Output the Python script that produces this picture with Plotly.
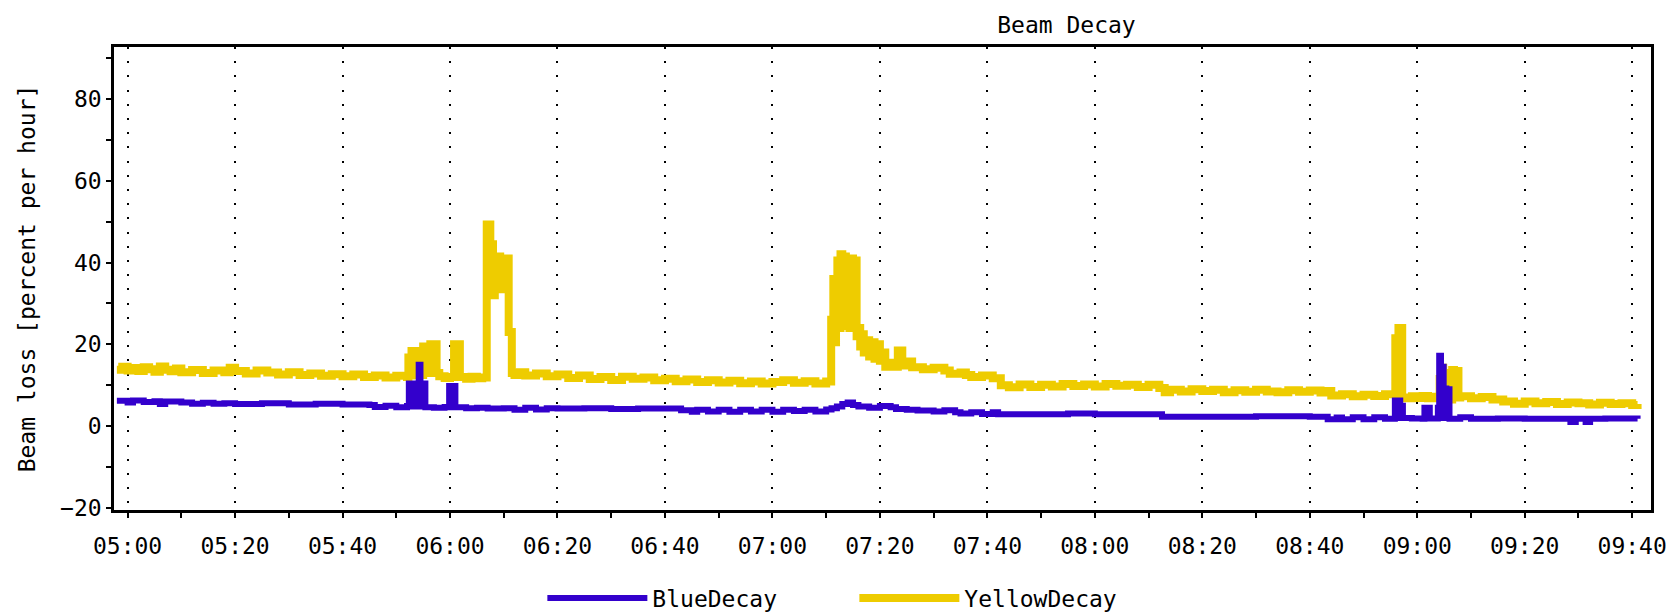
import plotly.graph_objects as go

DAY = "2000-01-01 "

yellow_t = ["04:58:00","04:59:00","05:00:00","05:01:00","05:02:00","05:03:00","05:04:00","05:05:00","05:06:00","05:07:00",
            "05:08:00","05:09:00","05:10:00","05:12:00","05:14:00","05:16:00","05:18:00","05:19:00","05:20:00","05:22:00",
            "05:24:00","05:26:00","05:28:00","05:30:00","05:32:00","05:34:00","05:36:00","05:38:00","05:40:00","05:42:00",
            "05:44:00","05:46:00","05:48:00","05:50:00","05:52:00",
            "05:52:15","05:52:35","05:52:50","05:53:10","05:53:30","05:53:50","05:55:00","05:55:20","05:55:40","05:56:00",
            "05:56:20","05:56:40","05:57:00","05:57:30","05:58:00","05:59:00","06:00:00",
            "06:00:45","06:01:10","06:01:30","06:01:50","06:03:00","06:04:00","06:05:00","06:06:00",
            "06:06:50","06:07:30","06:08:00","06:08:20","06:08:40","06:09:00","06:09:20","06:09:40","06:10:00",
            "06:10:30","06:10:55","06:11:30","06:12:00","06:13:00","06:14:00","06:16:00","06:18:00","06:20:00","06:22:00",
            "06:24:00","06:26:00","06:28:00","06:30:00","06:32:00","06:34:00","06:36:00","06:38:00","06:40:00","06:42:00",
            "06:44:00","06:46:00","06:48:00","06:50:00","06:52:00","06:54:00","06:56:00","06:58:00","07:00:00","07:02:00",
            "07:04:00","07:06:00","07:08:00","07:10:00",
            "07:10:56","07:11:20","07:11:35","07:11:50","07:12:05","07:12:25","07:12:40","07:13:00","07:13:20","07:13:40",
            "07:14:00","07:14:20","07:14:40","07:15:00","07:15:20","07:15:40","07:16:00","07:16:20","07:16:40","07:17:00",
            "07:17:30","07:18:00","07:18:30","07:19:00","07:19:30","07:20:00","07:20:40","07:21:00","07:22:00","07:22:30",
            "07:23:20","07:24:10","07:25:00","07:26:00","07:28:00","07:30:00","07:32:00",
            "07:33:00","07:35:00","07:36:00","07:37:00","07:39:00","07:41:00","07:42:30","07:44:00","07:46:00","07:48:00",
            "07:50:00","07:52:00","07:54:00","07:56:00","07:58:00","08:00:00","08:02:00","08:04:00","08:06:00","08:08:00",
            "08:10:00","08:12:00","08:13:00","08:14:00","08:16:00","08:18:00","08:20:00","08:22:00","08:24:00","08:26:00",
            "08:28:00","08:30:00","08:32:00","08:34:00","08:36:00","08:38:00","08:40:00","08:42:00","08:43:00","08:44:00",
            "08:46:00","08:48:00","08:50:00","08:52:00","08:54:00","08:55:55","08:56:15","08:56:30","08:57:12","08:58:00",
            "08:59:00","09:00:00","09:01:00","09:02:00","09:03:00","09:04:10","09:04:30","09:04:50","09:05:10","09:05:40",
            "09:06:30","09:06:50","09:07:10","09:07:40","09:08:00","09:10:00","09:12:00","09:14:00","09:16:00","09:18:00",
            "09:20:00","09:22:00","09:24:00","09:26:00","09:28:00","09:30:00","09:32:00","09:34:00","09:36:00","09:38:00",
            "09:40:00","09:41:00"]
yellow_v = [13.8,14.5,13.6,14.2,13.5,14.4,13.9,13.3,14.6,13.8,
            13.4,14.1,13.2,13.7,13.0,13.6,13.2,14.3,13.5,12.9,
            13.6,13.1,12.6,13.2,12.5,12.9,12.3,12.7,12.2,12.6,
            12.0,12.4,11.9,12.3,12.0,
            16.8,12.4,18.4,12.5,18.4,12.5,19.5,13.0,16.0,13.0,
            20.0,13.0,20.0,13.0,12.2,11.8,12.0,
            20.0,12.5,20.0,12.0,11.6,12.1,11.7,11.9,
            49.3,44.5,32.0,40.0,34.0,41.5,33.5,41.0,34.5,
            41.0,23.0,13.0,12.5,13.2,12.4,12.9,12.2,12.6,11.8,
            12.4,11.5,12.0,11.3,12.1,11.6,11.9,11.2,11.6,11.0,
            11.4,10.8,11.2,10.7,11.1,10.5,10.9,10.4,10.8,11.2,
            10.6,11.0,10.4,10.9,
            26.0,36.0,20.5,35.5,40.5,24.0,42.0,24.5,41.5,27.5,
            29.5,24.0,41.0,24.5,40.5,22.0,24.0,19.5,22.5,18.0,
            21.0,17.0,20.5,16.5,20.0,16.0,18.0,14.5,15.5,14.5,
            18.5,14.8,15.8,14.4,13.9,14.3,13.6,
            12.8,13.1,12.5,12.0,12.4,11.7,10.0,9.5,10.2,9.6,
            10.1,9.7,10.3,9.8,10.2,9.7,10.3,9.9,10.1,9.6,
            10.1,9.3,8.3,8.9,8.5,9.0,8.6,8.9,8.3,8.8,
            8.4,8.9,8.5,8.3,8.8,8.4,8.7,8.2,8.6,7.5,
            7.8,7.3,7.7,7.4,7.8,21.5,7.5,24.0,7.0,6.8,
            7.3,6.9,7.4,6.8,7.2,11.5,14.3,11.0,13.0,6.5,
            13.7,7.5,13.5,7.0,7.3,6.8,7.1,6.5,6.0,5.5,
            6.0,5.6,5.9,5.4,5.8,5.6,5.3,5.7,5.4,5.6,
            5.2,5.4]

blue_t = ["04:58:00","05:00:00","05:01:00","05:03:00","05:05:00","05:06:00","05:07:00","05:10:00","05:12:00","05:14:00",
          "05:16:00","05:18:00","05:20:00","05:25:00","05:30:00","05:35:00","05:40:00","05:45:00","05:46:00","05:48:00",
          "05:50:00","05:52:00",
          "05:52:20","05:52:40","05:53:00","05:53:20","05:53:40","05:54:00","05:54:10","05:54:30","05:54:50","05:55:05",
          "05:55:25","05:57:00","05:59:00","05:59:50","06:00:10","06:00:30","06:01:00",
          "06:03:00","06:05:00","06:07:00","06:10:00","06:12:00","06:14:00","06:16:00","06:18:00","06:20:00","06:25:00",
          "06:30:00","06:35:00","06:40:00","06:43:00","06:45:00","06:46:00","06:48:00","06:50:00","06:52:00","06:54:00",
          "06:56:00","06:58:00","07:00:00","07:02:00","07:04:00","07:06:00","07:08:00","07:10:00","07:11:00","07:12:00",
          "07:13:00","07:14:00","07:15:00","07:16:00","07:18:00","07:20:00","07:22:00","07:23:00","07:25:00","07:27:00",
          "07:30:00","07:32:00","07:34:00","07:35:00","07:37:00","07:39:00","07:41:00","07:42:00","07:50:00","07:55:00",
          "08:00:00","08:05:00","08:10:00","08:12:30","08:20:00","08:30:00","08:40:00","08:43:20","08:45:00","08:46:00",
          "08:48:00","08:50:00","08:52:00","08:54:00",
          "08:55:50","08:56:10","08:56:30","08:56:50","08:57:00","08:57:20","08:59:00","09:01:00","09:01:20","09:02:20",
          "09:03:50","09:04:05","09:04:25","09:04:40","09:04:55","09:05:10","09:05:25","09:05:40","09:06:00",
          "09:08:00","09:10:00","09:15:00","09:20:00","09:25:00",
          "09:28:30","09:29:30","09:31:20","09:32:10","09:35:00","09:41:00"]
blue_v = [6.2,5.8,6.3,5.9,6.1,5.4,6.0,5.8,5.5,5.7,
          5.5,5.6,5.4,5.6,5.3,5.5,5.3,5.2,4.7,5.0,
          4.6,4.9,
          10.4,4.8,10.4,4.8,10.4,4.8,15.0,10.4,4.8,10.4,
          4.6,4.5,4.7,9.8,4.6,9.8,4.6,
          4.4,4.5,4.3,4.4,4.0,4.5,4.1,4.4,4.3,4.4,
          4.2,4.3,4.3,3.9,3.5,4.0,3.6,4.0,3.5,4.0,
          3.6,4.0,3.5,4.0,3.7,4.0,3.6,4.1,4.4,4.8,
          5.4,5.8,5.2,4.8,4.5,4.9,4.6,4.2,4.0,3.8,
          3.6,3.9,3.4,3.1,3.4,3.0,3.4,2.9,2.9,3.1,
          2.9,2.9,2.9,2.3,2.3,2.4,2.3,1.7,2.1,1.7,
          2.2,1.7,2.2,1.8,
          6.3,2.0,6.3,2.0,5.0,2.0,1.9,1.8,4.5,1.9,
          4.5,17.2,2.0,14.5,2.0,9.2,2.0,9.0,1.8,
          2.2,1.8,1.9,1.8,1.8,
          1.0,1.8,1.0,1.8,1.9,1.8]

series_names = ["BlueDecay", "YellowDecay"]
series_colors = ["#3300cc", "#eecc00"]

x_tick_labels = ["05:00","05:20","05:40","06:00","06:20","06:40","07:00","07:20",
                 "07:40","08:00","08:20","08:40","09:00","09:20","09:40"]
y_tick_values = [-20, 0, 20, 40, 60, 80]

FONT = "DejaVu Sans Mono"
FS = 23

fig = go.Figure()
fig.add_trace(go.Scatter(x=[DAY + t for t in yellow_t], y=yellow_v, name=series_names[1],
                         mode="lines", line=dict(color=series_colors[1], width=8, shape="hv")))
fig.add_trace(go.Scatter(x=[DAY + t for t in blue_t], y=blue_v, name=series_names[0],
                         mode="lines", line=dict(color=series_colors[0], width=6, shape="hv")))

xr = [DAY + "04:57:28", DAY + "09:43:30"]
yr = [-20.5, 92.7]
tickvals_x = [DAY + t + ":00" for t in x_tick_labels]

common_x = dict(type="date", range=xr, tickvals=tickvals_x, ticktext=x_tick_labels)
fig.update_layout(
    width=1669, height=612,
    margin=dict(l=114, r=18, t=47, b=102, autoexpand=False),
    paper_bgcolor="white", plot_bgcolor="white",
    font=dict(family=FONT, size=FS, color="black"),
    title=dict(text="Beam Decay", x=0.639, xref="container", xanchor="center",
               y=0.959, yref="container", yanchor="middle",
               font=dict(family=FONT, size=FS, color="black")),
    showlegend=True,
    legend=dict(orientation="h", x=0.2787, xanchor="left", y=-0.2365, yanchor="bottom",
                traceorder="reversed", itemwidth=100, entrywidth=197,
                font=dict(family=FONT, size=FS)),
    xaxis=dict(**common_x, showline=True, linewidth=2.5, linecolor="black", mirror=True,
               ticks="outside", ticklen=5, tickwidth=2, tickcolor="black",
               ticklabelstandoff=9,
               minor=dict(ticks="outside", ticklen=5, tickwidth=2, tickcolor="black",
                          dtick=600000, tick0=DAY + "05:00:00", showgrid=False),
               showgrid=True, gridcolor="black", gridwidth=2, griddash="2px,12.2px",
               zeroline=False),
    xaxis2=dict(**common_x, overlaying="x", anchor="y", side="bottom", showline=False,
                ticks="inside", ticklen=5, tickwidth=2, tickcolor="black",
                showticklabels=False, showgrid=False, zeroline=False,
                minor=dict(ticks="inside", ticklen=5, tickwidth=2, tickcolor="black",
                           dtick=600000, tick0=DAY + "05:00:00", showgrid=False)),
    yaxis=dict(range=yr, tickvals=y_tick_values, showline=True, linewidth=2.5, linecolor="black",
               mirror=True, ticks="outside", ticklen=5, tickwidth=2, tickcolor="black",
               ticklabelstandoff=0,
               minor=dict(ticks="outside", ticklen=5, tickwidth=2, tickcolor="black",
                          dtick=10, tick0=0, showgrid=False),
               showgrid=False, zeroline=False,
               title=dict(text="Beam loss [percent per hour]", standoff=19,
                          font=dict(family=FONT, size=FS))),
    yaxis2=dict(range=yr, tickvals=y_tick_values, overlaying="y", anchor="x", side="left",
                showline=False, ticks="inside", ticklen=5, tickwidth=2, tickcolor="black",
                showticklabels=False, showgrid=False, zeroline=False,
                minor=dict(ticks="inside", ticklen=5, tickwidth=2, tickcolor="black",
                           dtick=10, tick0=0, showgrid=False)),
)

fig.write_html("out.html", config={"displayModeBar": False},
               post_script="document.body.style.margin='0';document.body.style.overflow='hidden';")
